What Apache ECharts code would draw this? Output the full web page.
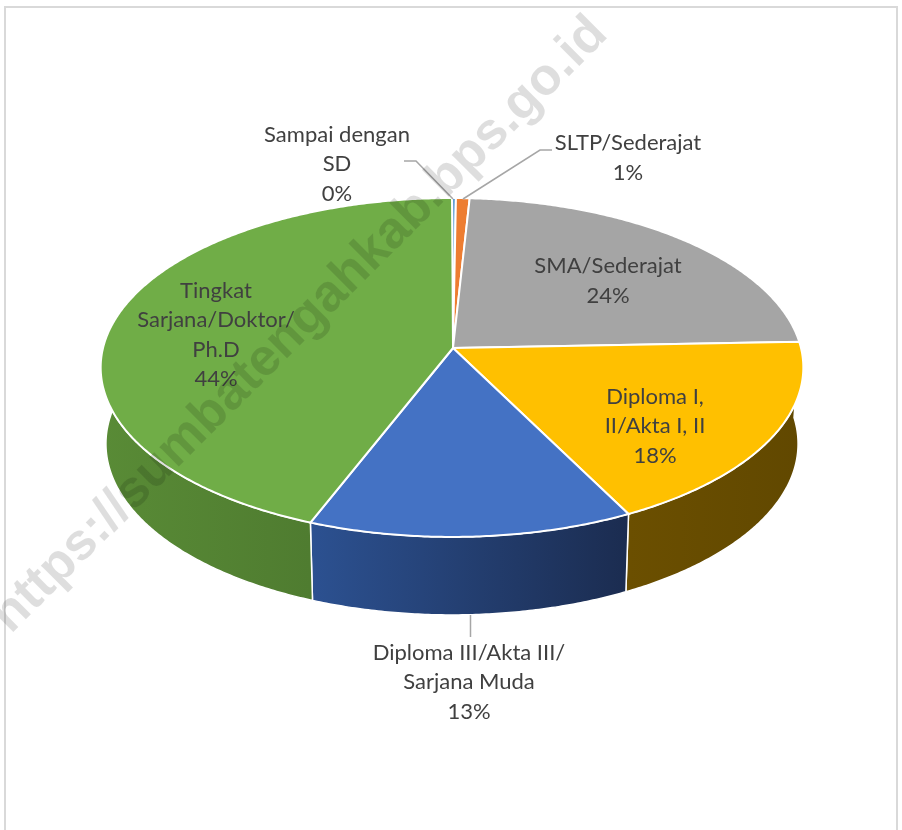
<!DOCTYPE html>
<html>
<head>
<meta charset="utf-8">
<style>
html, body { margin: 0; padding: 0; background: #fff; }
#chart { width: 902px; height: 830px; }
</style>
<script src="https://cdn.jsdelivr.net/npm/echarts@6/dist/echarts.min.js"></script>
</head>
<body>
<div id="chart"></div>
<script>
const categories = ['Sampai dengan\nSD', 'SLTP/Sederajat', 'SMA/Sederajat', 'Diploma I,\nII/Akta I, II', 'Diploma III/Akta III/\nSarjana Muda', 'Tingkat\nSarjana/Doktor/\nPh.D']
const values = [0.2, 0.7, 23.5, 18.1, 13.4, 44.1]
const colors = ['#5b9bd5', '#ed7d31', '#a5a5a5', '#ffc000', '#4472c4', '#70ad47']
const wallColors = [['#3f6c94', '#3f6c94'], ['#a4561f', '#a4561f'], ['#737373', '#737373'], ['#6b4f00', '#614800'], ['#2c5191', '#1b2c50'], ['#598b36', '#4f7c30']]

// where the text sits, centre of the block in pixels
const labelPos = [[337, 164], [628, 158], [608, 281], [655, 426], [469, 682], [216, 335]]
const leaders = [
	[[404, 161], [416, 161], [453, 199]],
	[[552, 150], [540, 150], [463, 199]],
	null, null,
	[[470.5, 615], [470.5, 637]],
	null
]

// the top of the pie is a tilted circle seen in perspective
const apex = [453, 348]
const cx = 452, cy = 348, a = 167.2, b = 349, k = 0.115
function rim(deg) {
	const t = deg * Math.PI / 180
	const u = Math.sin(t), v = -Math.cos(t)
	const d = 1 - k * v
	return [cx + b * u / d, cy + a * v / d, v]
}
function floorOf(p) {
	return [cx + (p[0] - cx) * 0.985, p[1] + 76 + 2 * p[2]]
}
function arc(from, to) {
	const pts = []
	for (let d = from; d < to; d += 0.5) pts.push(rim(d))
	pts.push(rim(to))
	return pts
}

const total = values.reduce((s, x) => s + x, 0)
const starts = []
let acc = 0
values.forEach(x => { starts.push(acc); acc += x / total * 360 })
const endOf = i => starts[i] + values[i] / total * 360

const chart = echarts.init(document.getElementById('chart'))
chart.setOption({
	backgroundColor: '#fff',
	animation: false,
	graphic: [
		{ type: 'rect', z: 0, silent: true, shape: { x: 5, y: 7, width: 892, height: 840 }, style: { fill: 'none', stroke: '#d9d9d9', lineWidth: 2 } },
		{ type: 'text', z: 100, silent: true, x: 300, y: 325, rotation: Math.PI / 4,
			style: { text: 'https://sumbatengahkab.bps.go.id', fill: 'rgba(0,0,0,0.13)', font: 'bold 52px "Liberation Sans"', align: 'center', verticalAlign: 'middle' } }
	],
	series: [
		{
			type: 'custom', coordinateSystem: 'none', z: 2, silent: true, data: values,
			renderItem(params) {
				const i = params.dataIndex
				// only the front of the wall can be seen
				const from = Math.max(starts[i], 85), to = Math.min(endOf(i), 275)
				if (to <= from) return { type: 'group', children: [] }
				const top = arc(from, to)
				const bottom = top.map(floorOf).reverse()
				const xs = top.map(p => p[0])
				return {
					type: 'polygon',
					shape: { points: top.map(p => [p[0], p[1]]).concat(bottom) },
					style: {
						fill: new echarts.graphic.LinearGradient(Math.min(...xs), 0, Math.max(...xs), 0, [
							{ offset: 0, color: wallColors[i][0] },
							{ offset: 1, color: wallColors[i][1] }
						], true),
						stroke: '#fff', lineWidth: 1.5
					}
				}
			}
		},
		{
			type: 'custom', coordinateSystem: 'none', z: 3, silent: true, data: values,
			renderItem(params) {
				const i = params.dataIndex
				const pts = arc(starts[i], endOf(i)).map(p => [p[0], p[1]])
				pts.unshift(apex)
				return { type: 'polygon', shape: { points: pts }, style: { fill: colors[i], stroke: '#fff', lineWidth: 2 } }
			}
		},
		{
			type: 'custom', coordinateSystem: 'none', z: 4, silent: true, data: values,
			renderItem(params, api) {
				const i = params.dataIndex
				const children = [{
					type: 'text', x: labelPos[i][0], y: labelPos[i][1],
					style: {
						text: categories[i] + '\n' + Math.round(api.value(0)) + '%',
						fill: '#404040', font: '22px Lato', lineHeight: 29.5, align: 'center', verticalAlign: 'middle'
					}
				}]
				if (leaders[i]) {
					children.push({ type: 'polyline', shape: { points: leaders[i] }, style: { fill: 'none', stroke: '#a6a6a6', lineWidth: 1.5 } })
				}
				return { type: 'group', children }
			}
		}
	]
})
</script>
</body>
</html>
